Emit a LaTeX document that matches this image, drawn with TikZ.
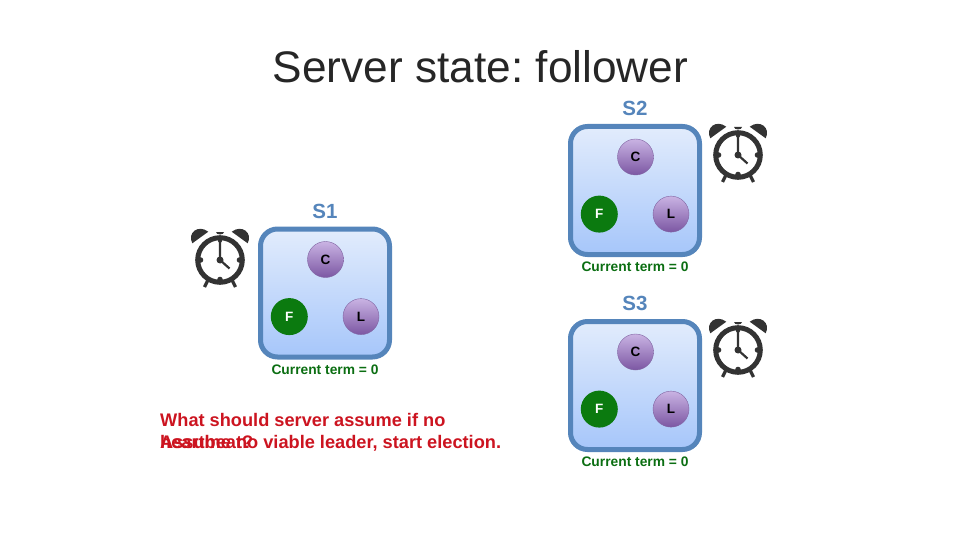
\documentclass[tikz,border=0pt]{standalone}
\usepackage{fontspec}
\setmainfont{Liberation Sans}
\usetikzlibrary{calc}
\definecolor{boxline}{HTML}{5585BB}
\definecolor{boxtop}{HTML}{E2ECFC}
\definecolor{boxbot}{HTML}{A6C6FA}
\definecolor{purptop}{HTML}{C9B3E3}
\definecolor{purpbot}{HTML}{7C57A3}
\definecolor{purpline}{HTML}{8064A2}
\definecolor{titlec}{HTML}{262626}
\definecolor{termc}{HTML}{0B6E12}
\definecolor{redc}{HTML}{CC1420}
\definecolor{greenc}{HTML}{0B7A0F}
\definecolor{clockc}{HTML}{333333}
\tikzset{
  x=1pt,y=-1pt,
  servbox/.style={draw=boxline,line width=5pt,rounded corners=17pt,top color=boxtop,bottom color=boxbot,minimum width=129pt,minimum height=128pt,inner sep=0pt},
  purp/.style={circle,draw=purpline,line width=0.4pt,top color=purptop,bottom color=purpbot,minimum size=36pt,inner sep=0pt,font=\bfseries\fontsize{13.5}{16}\selectfont,text=black},
  foll/.style={circle,fill=greenc,minimum size=37pt,inner sep=0pt,font=\bfseries\fontsize{13.5}{16}\selectfont,text=white},
  slabel/.style={font=\bfseries\fontsize{20.5}{24}\selectfont,text=boxline},
  term/.style={font=\bfseries\fontsize{13.8}{16}\selectfont,text=termc},
  redtext/.style={font=\bfseries\fontsize{18.2}{20}\selectfont,text=redc,anchor=base west,inner sep=0pt},
  cparts/.style={clockc,line width=3.2pt}
}
\newcommand{\alarm}[2]{%
  \begin{scope}[shift={(#1,#2)}]
    \draw[clockc,line width=5pt] (0,0) circle (22.3);
    \fill[clockc] (-27.7,-16.7) .. controls (-33,-27) and (-22,-36) .. (-11.7,-28.3) -- cycle;
    \fill[clockc] (27.7,-16.7) .. controls (33,-27) and (22,-36) .. (11.7,-28.3) -- cycle;
    \draw[clockc,line width=2.2pt] (0,-18) -- (0,0) -- (9.5,8.5);
    \fill[clockc] (0,0) circle (3.5);
    \draw[cparts] (-12,20) -- (-15.5,27);
    \draw[cparts] (12,20) -- (15.5,27);
    \fill[clockc] (-4,-28) arc (180:0:4 and 2.5) -- cycle;
    \fill[clockc] (-19.5,0) circle (2.8) (19.5,0) circle (2.8) (0,19.5) circle (2.8) (0,-19.5) circle (2.2);
  \end{scope}}
\newcommand{\server}[4]{% name cx cy id
  \node[servbox] (#4box) at (#2,#3) {};
  \node[slabel] (#4lab) at (#2,#3-82) {#1};
  \node[purp] (#4c) at (#2+0.5,#3-33.5) {C};
  \node[foll] (#4f) at (#2-35.7,#3+23.6) {F};
  \node[purp] (#4l) at (#2+36,#3+23.6) {L};
  \node[term] (#4t) at (#2,#3+76.6) {Current term = 0};
}
\begin{document}
\frenchspacing
\begin{tikzpicture}
\useasboundingbox (0,0) rectangle (960,540);
\node[font=\fontsize{44.2}{50}\selectfont,text=titlec] (title) at (480.5,67) {Server state: follower};
\server{S1}{325}{293}{a}
\server{S2}{635}{190.5}{b}
\server{S3}{635}{385.5}{c}
\alarm{220}{260}
\alarm{738}{155}
\alarm{738}{350}
\node[redtext] (q) at (160,426) {What should server assume if no};
\node[redtext] (h) at (160,448) {heartbeat?};
\node[redtext] (a) at (160,448) {Assume no viable leader, start election.};
\end{tikzpicture}
\end{document}
